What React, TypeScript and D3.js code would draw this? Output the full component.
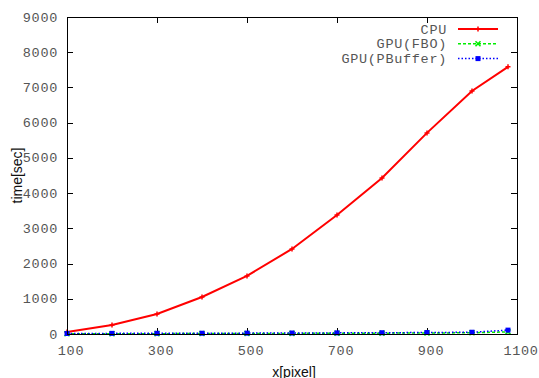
import * as d3 from "d3";
import { useRef, useEffect } from "react";

// x values (pixel) and times (sec)
const xs = [100, 200, 300, 400, 500, 600, 700, 800, 900, 1000, 1080];
const cpu = [60, 255, 570, 1050, 1650, 2415, 3380, 4430, 5710, 6900, 7585];
const gpuFbo = [5, 8, 10, 12, 14, 17, 20, 24, 28, 35, 60];
const gpuPbuffer = [15, 18, 20, 22, 25, 28, 32, 36, 42, 50, 110];
const xTicks = [100, 300, 500, 700, 900, 1100];
const yTicks = [0, 1000, 2000, 3000, 4000, 5000, 6000, 7000, 8000, 9000];

const series = [
  { name: "CPU", values: cpu, color: "#ff0000", dash: "", marker: "plus", width: 2 },
  { name: "GPU(FBO)", values: gpuFbo, color: "#00ee00", dash: "3 2", marker: "cross", width: 1.5 },
  { name: "GPU(PBuffer)", values: gpuPbuffer, color: "#0000ff", dash: "1.5 2", marker: "square", width: 1.5 },
];

export default function App() {
  const svgRef = useRef<SVGSVGElement | null>(null);
  const width = 539;
  const height = 378;
  const marginTop = 17;
  const marginRight = 22;
  const marginBottom = 44;
  const marginLeft = 67;

  useEffect(() => {
    const svg = d3.select(svgRef.current);
    svg.selectAll("*").remove();

    const x = d3.scaleLinear().domain([100, 1100]).range([marginLeft, width - marginRight]);
    const y = d3.scaleLinear().domain([0, 9000]).range([height - marginBottom, marginTop]);
    const tick = 6;
    const tickFont = "'Liberation Mono', 'DejaVu Sans Mono', monospace";
    const textColor = "#555";

    const drawMarker = (g: any, kind: string, cx: number, cy: number, color: string) => {
      if (kind === "plus") {
        g.append("path")
          .attr("d", `M${cx - 2.5},${cy}H${cx + 2.5}M${cx},${cy - 2.5}V${cy + 2.5}`)
          .attr("stroke", color)
          .attr("stroke-width", 1.5);
      } else if (kind === "cross") {
        g.append("path")
          .attr("d", `M${cx - 2.5},${cy - 2.5}L${cx + 2.5},${cy + 2.5}M${cx - 2.5},${cy + 2.5}L${cx + 2.5},${cy - 2.5}`)
          .attr("stroke", color)
          .attr("stroke-width", 1.5);
      } else {
        g.append("rect")
          .attr("x", cx - 2.5)
          .attr("y", cy - 2.5)
          .attr("width", 5)
          .attr("height", 5)
          .attr("fill", color);
      }
    };

    // ticks, inward on all four sides
    const ticksG = svg.append("g").attr("stroke", "#000").attr("stroke-width", 1);
    yTicks.forEach((t) => {
      const yy = Math.round(y(t)) + 0.5;
      ticksG.append("line").attr("x1", marginLeft).attr("x2", marginLeft + tick).attr("y1", yy).attr("y2", yy);
      ticksG.append("line").attr("x1", width - marginRight).attr("x2", width - marginRight - tick).attr("y1", yy).attr("y2", yy);
    });
    xTicks.forEach((t) => {
      const xx = Math.round(x(t)) + 0.5;
      ticksG.append("line").attr("x1", xx).attr("x2", xx).attr("y1", height - marginBottom).attr("y2", height - marginBottom - tick);
      ticksG.append("line").attr("x1", xx).attr("x2", xx).attr("y1", marginTop).attr("y2", marginTop + tick);
    });

    svg
      .append("g")
      .selectAll("text")
      .data(yTicks)
      .join("text")
      .attr("x", marginLeft - 9)
      .attr("y", (d) => y(d) + 4.5)
      .attr("text-anchor", "end")
      .attr("font-family", tickFont)
      .attr("font-size", "13.5px")
      .attr("letter-spacing", "0.7px")
      .attr("fill", textColor)
      .text((d) => d);

    svg
      .append("g")
      .selectAll("text")
      .data(xTicks)
      .join("text")
      .attr("x", (d) => x(d) + 4)
      .attr("y", height - marginBottom + 21)
      .attr("text-anchor", "middle")
      .attr("font-family", tickFont)
      .attr("font-size", "13.5px")
      .attr("letter-spacing", "0.7px")
      .attr("fill", textColor)
      .text((d) => d);

    // axis titles
    svg
      .append("text")
      .attr("transform", `translate(22,${(marginTop + height - marginBottom) / 2}) rotate(-90)`)
      .attr("text-anchor", "middle")
      .attr("font-family", "'Liberation Sans', Arial, sans-serif")
      .attr("font-size", "14px")
      .attr("fill", "#111")
      .text("time[sec]");

    svg
      .append("text")
      .attr("x", (marginLeft + width - marginRight) / 2 + 2)
      .attr("y", height - 1)
      .attr("text-anchor", "middle")
      .attr("font-family", "'Liberation Sans', Arial, sans-serif")
      .attr("font-size", "14px")
      .attr("fill", "#111")
      .text("x[pixel]");

    // series lines and markers
    series.forEach((s) => {
      const pts = xs.map((xv, i) => [xv, s.values[i]] as [number, number]);
      const line = d3
        .line<[number, number]>()
        .x((d) => x(d[0]))
        .y((d) => y(d[1]));
      svg
        .append("path")
        .datum(pts)
        .attr("fill", "none")
        .attr("stroke", s.color)
        .attr("stroke-width", s.width)
        .attr("stroke-dasharray", s.dash || null)
        .attr("d", line);
      const mg = svg.append("g");
      pts.forEach((p) => drawMarker(mg, s.marker, x(p[0]), y(p[1]), s.color));
    });

    // legend
    const legend = svg.append("g");
    series.forEach((s, i) => {
      const ly = 29 + i * 14.8;
      legend
        .append("text")
        .attr("x", 447)
        .attr("y", ly + 4.5)
        .attr("text-anchor", "end")
        .attr("font-family", tickFont)
        .attr("font-size", "13.5px")
        .attr("letter-spacing", "0.7px")
        .attr("fill", textColor)
        .text(s.name);
      legend
        .append("line")
        .attr("x1", 458)
        .attr("x2", 498)
        .attr("y1", ly)
        .attr("y2", ly)
        .attr("stroke", s.color)
        .attr("stroke-width", s.width)
        .attr("stroke-dasharray", s.dash || null);
      drawMarker(legend, s.marker, 478, ly, s.color);
    });

    // frame
    svg
      .append("rect")
      .attr("x", marginLeft + 0.5)
      .attr("y", marginTop + 0.5)
      .attr("width", width - marginLeft - marginRight)
      .attr("height", height - marginTop - marginBottom)
      .attr("fill", "none")
      .attr("stroke", "#000")
      .attr("stroke-width", 1);
  }, []);

  return (
    <svg
      ref={svgRef}
      width={width}
      height={height}
      style={{ position: "absolute", left: 0, top: 0, background: "#fff" }}
    ></svg>
  );
}
